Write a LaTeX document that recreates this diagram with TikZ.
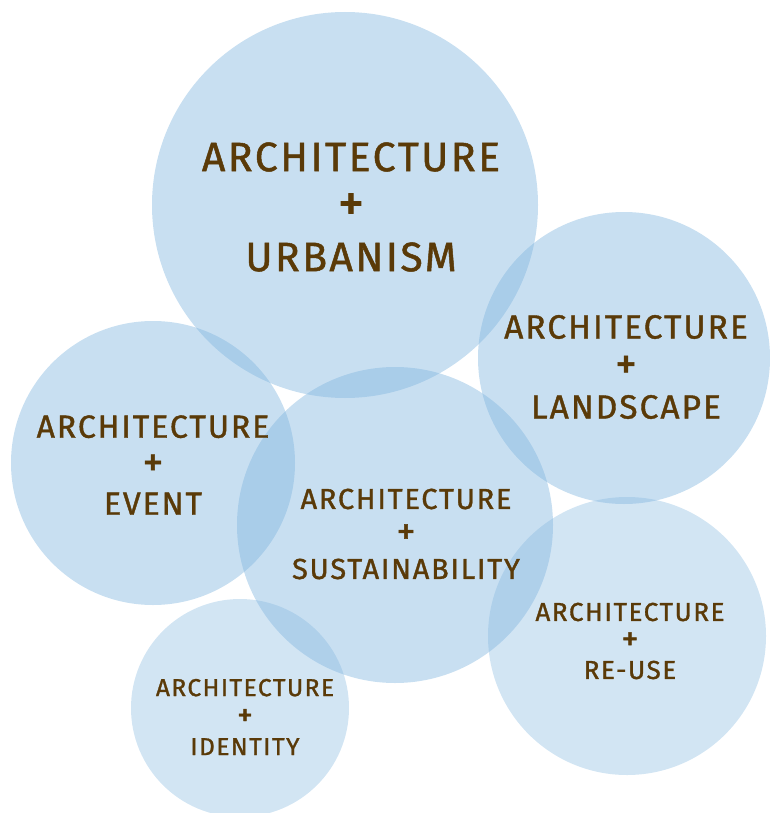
\documentclass[tikz,border=0pt]{standalone}
\usepackage{fontspec}
\setmainfont{Fira Sans}[LetterSpace=6, FakeBold=1.2]
\usetikzlibrary{positioning}

\definecolor{bubble}{RGB}{130,182,223}
\definecolor{bubbletext}{RGB}{90,58,8}

\newcommand{\bigplus}{\scalebox{1.3}{+}}

\tikzset{
    bubble/.style={fill=bubble, fill opacity=0.44},
    palebubble/.style={fill=bubble, fill opacity=0.36},
    caption/.style={text=bubbletext, align=center, inner sep=0pt}
}

\begin{document}
\begin{tikzpicture}[x=1pt, y=-1pt]
    \useasboundingbox (0,0) rectangle (769,813);

    % Circles
    \fill[bubble] (345,205) circle (193);
    \fill[bubble] (624,358) circle (146);
    \fill[bubble] (153,463) circle (142);
    \fill[bubble] (395,525) circle (158);
    \fill[palebubble] (627,636) circle (139);
    \fill[palebubble] (240,708) circle (109);

    % Nodes
    \node[caption, font=\fontsize{41}{50}\selectfont] (urbanism) at (351,207)
        {ARCHITECTURE\\\bigplus\\URBANISM};
    \node[caption, font=\fontsize{33.5}{40}\selectfont] (landscape) at (626,367)
        {ARCHITECTURE\\\bigplus\\LANDSCAPE};
    \node[caption, font=\fontsize{32}{38.5}\selectfont] (event) at (153,465)
        {ARCHITECTURE\\\bigplus\\EVENT};
    \node[caption, font=\fontsize{29}{35}\selectfont] (sustain) at (406,534)
        {ARCHITECTURE\\\bigplus\\SUSTAINABILITY};
    \node[caption, font=\fontsize{26}{29}\selectfont] (reuse) at (630,641)
        {ARCHITECTURE\\\bigplus\\RE-USE};
    \node[caption, font=\fontsize{24.5}{29.5}\selectfont] (identity) at (245,717)
        {ARCHITECTURE\\\bigplus\\IDENTITY};
\end{tikzpicture}
\end{document}
